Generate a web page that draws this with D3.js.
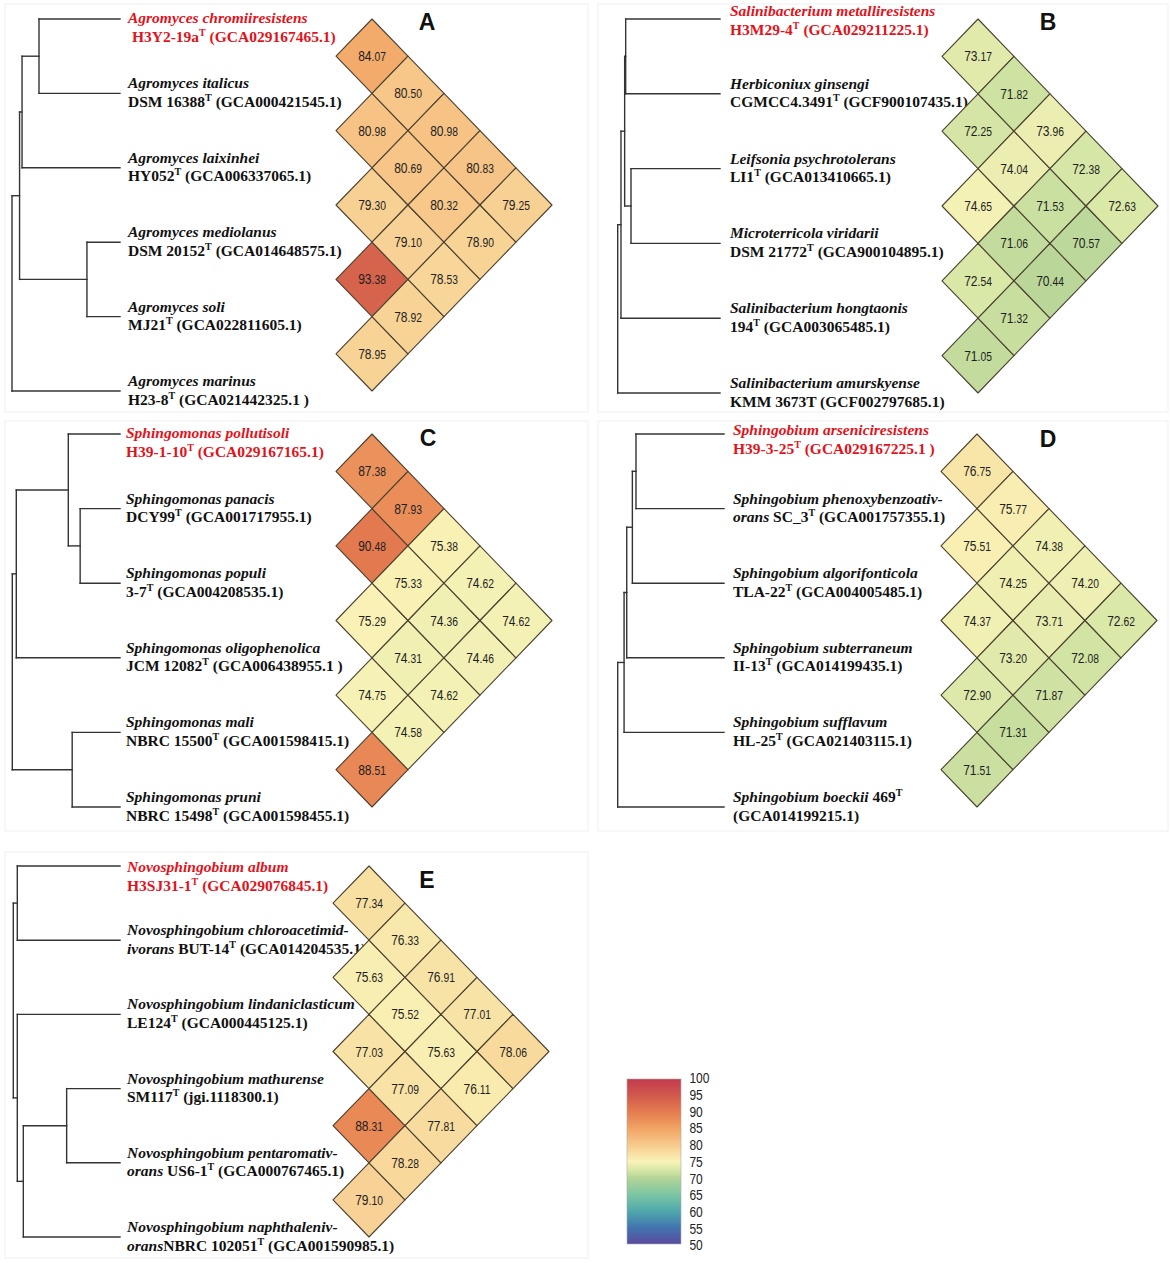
<!DOCTYPE html>
<html><head><meta charset="utf-8">
<script src="https://cdn.jsdelivr.net/npm/d3@7/dist/d3.min.js"></script>
<style>body{margin:0;background:#fff}svg text{white-space:pre}</style>
</head><body><svg id="c" width="1170" height="1263"></svg>
<script>
// ---------- DATA ----------
// leaf labels: *italic*, ^T superscript
const labelsA = [
  ["*Agromyces chromiiresistens*", "\u00a0H3Y2-19a^T (GCA029167465.1)"],
  ["*Agromyces italicus*", "DSM 16388^T (GCA000421545.1)"],
  ["*Agromyces laixinhei*", "HY052^T (GCA006337065.1)"],
  ["*Agromyces mediolanus*", "DSM 20152^T (GCA014648575.1)"],
  ["*Agromyces soli*", "MJ21^T (GCA022811605.1)"],
  ["*Agromyces marinus*", "H23-8^T (GCA021442325.1 )"]
];
const labelsB = [
  ["*Salinibacterium metalliresistens*", "H3M29-4^T (GCA029211225.1)"],
  ["*Herbiconiux ginsengi*", "CGMCC4.3491^T (GCF900107435.1)"],
  ["*Leifsonia psychrotolerans*", "LI1^T (GCA013410665.1)"],
  ["*Microterricola viridarii*", "DSM 21772^T (GCA900104895.1)"],
  ["*Salinibacterium hongtaonis*", "194^T (GCA003065485.1)"],
  ["*Salinibacterium amurskyense*", "KMM 3673T (GCF002797685.1)"]
];
const labelsC = [
  ["*Sphingomonas pollutisoli*", "H39-1-10^T (GCA029167165.1)"],
  ["*Sphingomonas panacis*", "DCY99^T (GCA001717955.1)"],
  ["*Sphingomonas populi*", "3-7^T (GCA004208535.1)"],
  ["*Sphingomonas oligophenolica*", "JCM 12082^T (GCA006438955.1 )"],
  ["*Sphingomonas mali*", "NBRC 15500^T (GCA001598415.1)"],
  ["*Sphingomonas pruni*", "NBRC 15498^T (GCA001598455.1)"]
];
const labelsD = [
  ["*Sphingobium arseniciresistens*", "H39-3-25^T (GCA029167225.1 )"],
  ["*Sphingobium phenoxybenzoativ-*", "*orans* SC_3^T (GCA001757355.1)"],
  ["*Sphingobium algorifonticola*", "TLA-22^T (GCA004005485.1)"],
  ["*Sphingobium subterraneum*", "II-13^T (GCA014199435.1)"],
  ["*Sphingobium sufflavum*", "HL-25^T (GCA021403115.1)"],
  ["*Sphingobium boeckii* 469^T", "(GCA014199215.1)"]
];
const labelsE = [
  ["*Novosphingobium album*", "H3SJ31-1^T (GCA029076845.1)"],
  ["*Novosphingobium chloroacetimid-*", "*ivorans* BUT-14^T (GCA014204535.1)"],
  ["*Novosphingobium lindaniclasticum*", "LE124^T (GCA000445125.1)"],
  ["*Novosphingobium mathurense*", "SM117^T (jgi.1118300.1)"],
  ["*Novosphingobium pentaromativ-*", "*orans* US6-1^T (GCA000767465.1)"],
  ["*Novosphingobium naphthaleniv-*", "*orans*NBRC 102051^T (GCA001590985.1)"]
];

// pairwise values, grouped by leaf distance k = 1..5 (pair i, i+k)
const aniA = [[84.07, 80.98, 79.30, 93.38, 78.95], [80.50, 80.69, 79.10, 78.92], [80.98, 80.32, 78.53], [80.83, 78.90], [79.25]];
const aniB = [[73.17, 72.25, 74.65, 72.54, 71.05], [71.82, 74.04, 71.06, 71.32], [73.96, 71.53, 70.44], [72.38, 70.57], [72.63]];
const aniC = [[87.38, 90.48, 75.29, 74.75, 88.51], [87.93, 75.33, 74.31, 74.58], [75.38, 74.36, 74.62], [74.62, 74.46], [74.62]];
const aniD = [[76.75, 75.51, 74.37, 72.90, 71.51], [75.77, 74.25, 73.20, 71.31], [74.38, 73.71, 71.87], [74.20, 72.08], [72.62]];
const aniE = [[77.34, 75.63, 77.03, 88.31, 79.10], [76.33, 75.52, 77.09, 78.28], [76.91, 75.63, 77.81], [77.01, 76.11], [78.06]];

// trees: [node depth (0 = root, 1 = tips), children...]; numbers are leaf indices
const treeA = [0, [0.07, [0.093, [0.25, 0, 1], 2], [0.694, 3, 4]], 5];
const treeB = [0, [0.032, [0.068, [0.078, 0, 1], [0.13, 2, 3]], 4], 5];
const treeC = [0, [0.037, [0.52, 0, [0.63, 1, 2]], 3], [0.556, 4, 5]];
const treeD = [0, [0.06, [0.085, [0.138, [0.172, 0, 1], 2], 3], 4], 5];
const treeE = [0, [0.0375, 0, 1], [0.0375, 2, [0.094, [0.5, 3, 4], 5]]];

// colour legend
const legendTicks = [100, 95, 90, 85, 80, 75, 70, 65, 60, 55, 50];
const colorStops = [100, 95, 90, 85, 80, 75, 72.5, 70, 65, 60, 55, 50];
const colorValues = ["#c43b4f", "#d0594c", "#e47c4f", "#f2a465", "#f7ca8d", "#f9f3b7", "#d8e7a7", "#b4d496", "#7cc6a4", "#4fa8ab", "#4275b0", "#5a4b9f"];

// ---------- LAYOUT ----------
const panels = [
  {labels: labelsA, tree: treeA, vals: aniA, treeX: [12, 120], leafY: [19, 391], labelX: 128, c0: 372, letter: "A", lx: 427, ly: 30, shift: 9, box: [5, 4, 583, 408]},
  {labels: labelsB, tree: treeB, vals: aniB, treeX: [617.7, 720], leafY: [19, 393], labelX: 730, c0: 978, letter: "B", lx: 1048, ly: 30, shift: 2, box: [598, 4, 570, 408]},
  {labels: labelsC, tree: treeC, vals: aniC, treeX: [12.3, 120], leafY: [434, 807], labelX: 126, c0: 372, letter: "C", lx: 428, ly: 446, shift: 9, box: [5, 421, 583, 410]},
  {labels: labelsD, tree: treeD, vals: aniD, treeX: [617.7, 724], leafY: [434, 807], labelX: 733, c0: 977, letter: "D", lx: 1048, ly: 447, shift: 6, box: [598, 421, 570, 410]},
  {labels: labelsE, tree: treeE, vals: aniE, treeX: [13.3, 120], leafY: [866, 1237], labelX: 127, c0: 369, letter: "E", lx: 427, ly: 888, shift: 11, box: [5, 852, 583, 406]}
];
const HW = 36;

const svg = d3.select("#c");
const color = d3.scaleLinear().domain(colorStops).range(colorValues).interpolate(d3.interpolateRgb).clamp(true);

function layoutTree(node, yS) {
  if (typeof node === "number") return {leaf: true, d: 1, y: yS(node)};
  const [d, ...kids] = node;
  const ch = kids.map(k => layoutTree(k, yS));
  return {d, children: ch, y: (ch[0].y + ch[ch.length - 1].y) / 2};
}
function drawTree(g, n, xS) {
  if (n.leaf) return;
  const x = xS(n.d);
  g.append("line").attr("x1", x).attr("x2", x)
    .attr("y1", n.children[0].y).attr("y2", n.children[n.children.length - 1].y);
  n.children.forEach(c => {
    g.append("line").attr("x1", x).attr("x2", xS(c.d)).attr("y1", c.y).attr("y2", c.y);
    drawTree(g, c, xS);
  });
}
function drawLabel(g, x, y, lines, fill) {
  lines.forEach((line, li) => {
    const t = g.append("text").attr("x", x).attr("y", y + li * 18.5)
      .attr("font-family", "'Liberation Serif','Times New Roman',serif")
      .attr("font-weight", "bold").attr("font-size", 15.5).attr("fill", fill);
    const parts = line.split(/(\*[^*]*\*|\^T)/).filter(s => s.length);
    let up = false;
    parts.forEach(p => {
      const ts = t.append("tspan");
      if (up) { ts.attr("dy", 6); up = false; }
      if (p === "^T") { ts.attr("dy", -6).attr("font-size", 10).text("T"); up = true; }
      else if (p[0] === "*") ts.attr("font-style", "italic").text(p.slice(1, -1));
      else ts.text(p);
    });
  });
}

panels.forEach(P => {
  const g = svg.append("g");
  g.append("rect").attr("x", P.box[0]).attr("y", P.box[1]).attr("width", P.box[2]).attr("height", P.box[3])
    .attr("fill", "none").attr("stroke", "#f0f0f0").attr("stroke-width", 1);
  const yS = d3.scalePoint().domain(d3.range(6)).range(P.leafY);
  const xS = d3.scaleLinear().domain([0, 1]).range(P.treeX);
  const root = layoutTree(P.tree, yS);
  const tg = g.append("g").attr("stroke", "#333").attr("stroke-width", 1.4).attr("stroke-linecap", "square");
  drawTree(tg, root, xS);

  const lg = g.append("g");
  P.labels.forEach((lines, i) => {
    const base = yS(i) - 5 + (i === 0 ? P.shift : 0);
    drawLabel(lg, P.labelX, base, lines, i === 0 ? "#e3121b" : "#111");
  });

  // heat cells
  const hh = yS.step() / 2;
  const xCol = d3.scaleLinear().domain([1, 5]).range([P.c0, P.c0 + 4 * HW]);
  const hg = g.append("g");
  const cells = [];
  P.vals.forEach((col, ki) => col.forEach((v, i) => cells.push({k: ki + 1, i, j: i + ki + 1, v})));
  cells.forEach(c => {
    const cx = xCol(c.k), cy = (yS(c.i) + yS(c.j)) / 2;
    hg.append("path")
      .attr("d", `M${cx - HW},${cy}L${cx},${cy - hh}L${cx + HW},${cy}L${cx},${cy + hh}Z`)
      .attr("fill", color(c.v)).attr("stroke", "#4a4030").attr("stroke-width", 1.1).attr("stroke-linejoin", "round");
  });
  cells.forEach(c => {
    const cx = xCol(c.k), cy = (yS(c.i) + yS(c.j)) / 2;
    const s = c.v.toFixed(2).split(".");
    const t = hg.append("text").attr("transform", `translate(${cx},${cy + 5}) scale(0.86,1)`)
      .attr("text-anchor", "middle").attr("font-family", "'Liberation Sans',Arial,sans-serif")
      .attr("fill", "#1e1e1e");
    t.append("tspan").attr("font-size", 14).text(s[0]);
    t.append("tspan").attr("font-size", 12).text("." + s[1]);
  });

  g.append("text").attr("x", P.lx).attr("y", P.ly).attr("text-anchor", "middle")
    .attr("font-family", "'Liberation Sans',Arial,sans-serif").attr("font-weight", "bold")
    .attr("font-size", 23).attr("fill", "#111").text(P.letter);
});

// ---------- LEGEND ----------
const defs = svg.append("defs");
const grad = defs.append("linearGradient").attr("id", "lg").attr("x1", 0).attr("x2", 0).attr("y1", 0).attr("y2", 1);
colorStops.forEach((v, i) => grad.append("stop").attr("offset", (100 - v) / 50).attr("stop-color", colorValues[i]));
svg.append("rect").attr("x", 627).attr("y", 1079).attr("width", 54).attr("height", 165)
  .attr("fill", "url(#lg)").attr("stroke", "#aaa").attr("stroke-width", 0.6);
const ly = d3.scaleLinear().domain([100, 50]).range([1078, 1245]);
const ax = svg.append("g").attr("transform", "translate(687,0)")
  .call(d3.axisRight(ly).tickValues(legendTicks).tickSize(0).tickPadding(3).tickFormat(d3.format("d")));
ax.select(".domain").remove();
ax.selectAll("text").attr("font-size", 15).attr("font-family", "'Liberation Sans',Arial,sans-serif")
  .attr("fill", "#222").attr("transform", "scale(0.8,1)");
</script>
</body></html>
